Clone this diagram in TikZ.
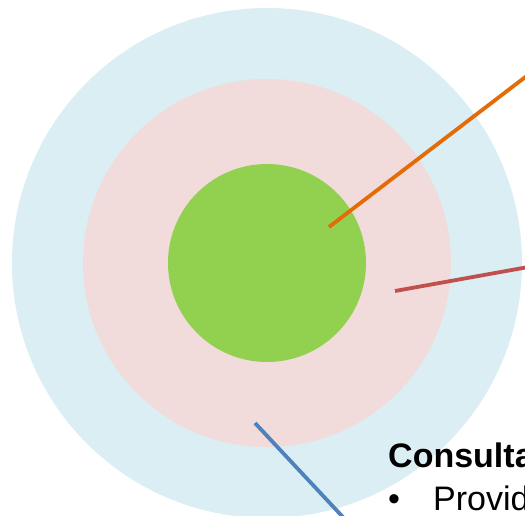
\documentclass[tikz,border=0pt]{standalone}
\usepackage{fontspec}
\setmainfont{Liberation Sans}
\definecolor{ringblue}{HTML}{DAEEF3}
\definecolor{ringpink}{HTML}{F2DCDB}
\definecolor{coregreen}{HTML}{92D050}
\definecolor{leadorange}{HTML}{E36C09}
\definecolor{leadred}{HTML}{C0504D}
\definecolor{leadblue}{HTML}{4F81BD}

\begin{document}
\begin{tikzpicture}[
  x=1pt, y=-1pt,
  ring/.style={circle, draw=none, inner sep=0pt, outer sep=0pt},
  leader/.style={line width=3.8pt},
  label/.style={anchor=base west, inner sep=0pt, font=\fontsize{34}{41}\selectfont}
]
\useasboundingbox (0,0) rectangle (525,515);
\clip (0,0) rectangle (525,515);

% rings
\node[ring, fill=ringblue, minimum size=510pt] (outer) at (267,263) {};
\node[ring, fill=ringpink, minimum size=368pt] (middle) at (267,263) {};
\node[ring, fill=coregreen, minimum size=198pt] (core) at (267,263) {};

% leader lines
\coordinate (corept) at (329,227);
\coordinate (coreend) at (545,62);
\coordinate (midpt) at (395,291);
\coordinate (midend) at (545,264);
\coordinate (outpt) at (255,423);
\coordinate (outend) at (355,530);
\draw[leader, leadorange] (corept) -- (coreend);
\draw[leader, leadred] (midpt) -- (midend);
\draw[leader, leadblue] (outpt) -- (outend);

% text
\node[label, font=\bfseries\fontsize{34}{41}\selectfont] (head) at (388,467) {Consultation};
\node[label] (bullet) at (388,510) {•};
\node[label] (item) at (433,510) {Provide};
\end{tikzpicture}
\end{document}
